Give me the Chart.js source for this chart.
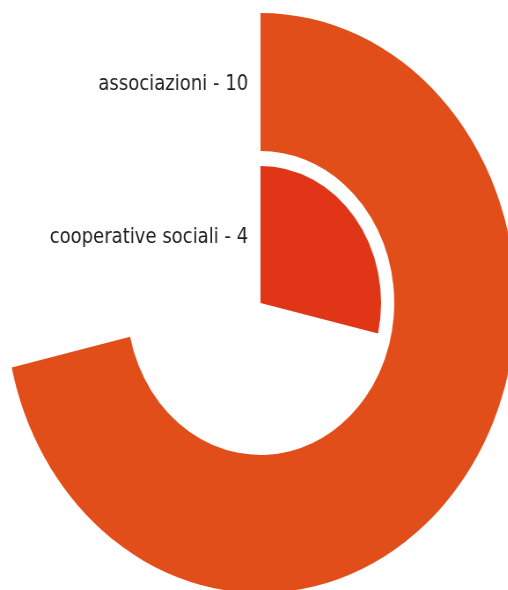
<!DOCTYPE html>
<html>
<head>
<meta charset="utf-8">
<script src="https://cdn.jsdelivr.net/npm/chart.js@4/dist/chart.umd.min.js"></script>
<style>
  html, body { margin: 0; padding: 0; background: #fff; overflow: hidden; width: 508px; height: 590px; }
  /* the chart is drawn square and then squeezed to the page width */
  #stage { position: absolute; left: 0; top: 0; width: 620px; height: 606px; transform: scaleX(0.88); transform-origin: 0 0; }
  #wrap { position: absolute; left: 5.5px; top: 13px; width: 580px; height: 580px; }
</style>
</head>
<body>
<div id="stage"><div id="wrap"><canvas id="canvas"></canvas></div></div>
<script>
//****DATA****//

var categories = ['associazioni', 'cooperative sociali'];
var counts = [10, 4];
var ringColors = ['#e24e1a', '#e03617'];

var total = counts.reduce(function (a, b) { return a + b; }, 0);

//****RINGS****//

// one ring per category, value out of the total, remainder left empty
function ringDataset(i, weight) {
  return {
    label: categories[i],
    data: [counts[i], total - counts[i]],
    backgroundColor: [ringColors[i], 'rgba(0,0,0,0)'],
    borderWidth: 0,
    hoverBorderWidth: 0,
    hoverOffset: 0,
    offset: 0,
    weight: weight
  };
}

var gapRing = {
  data: [total],
  backgroundColor: ['rgba(0,0,0,0)'],
  borderWidth: 0,
  hoverBorderWidth: 0,
  hoverOffset: 0,
  weight: 15
};

// writes "name - value" just left of where each ring starts
var ringLabels = {
  id: 'ringLabels',
  afterDatasetsDraw: function (chart) {
    var ctx = chart.ctx;
    ctx.save();
    ctx.font = '20.5px "DejaVu Sans"';
    ctx.fillStyle = '#1e1e1e';
    ctx.textAlign = 'right';
    ctx.textBaseline = 'middle';
    [0, 2].forEach(function (dsIndex, i) {
      var arc = chart.getDatasetMeta(dsIndex).data[0];
      var mid = (arc.innerRadius + arc.outerRadius) / 2;
      ctx.fillText(categories[i] + ' - ' + counts[i], arc.x - 14, arc.y - mid + 3);
    });
    ctx.restore();
  }
};

function makeChart() {
  var ctx = document.getElementById('canvas').getContext('2d');

  var chart = new Chart(ctx, {
    type: 'doughnut',
    data: {
      labels: ['value', 'rest'],
      datasets: [ringDataset(0, 138), gapRing, ringDataset(1, 137)]
    },
    options: {
      responsive: true,
      maintainAspectRatio: false,
      animation: false,
      events: [],
      cutout: 0,
      layout: { padding: 0 },
      plugins: {
        legend: { display: false },
        tooltip: { enabled: false }
      }
    },
    plugins: [ringLabels]
  });
}

makeChart();
</script>
</body>
</html>
